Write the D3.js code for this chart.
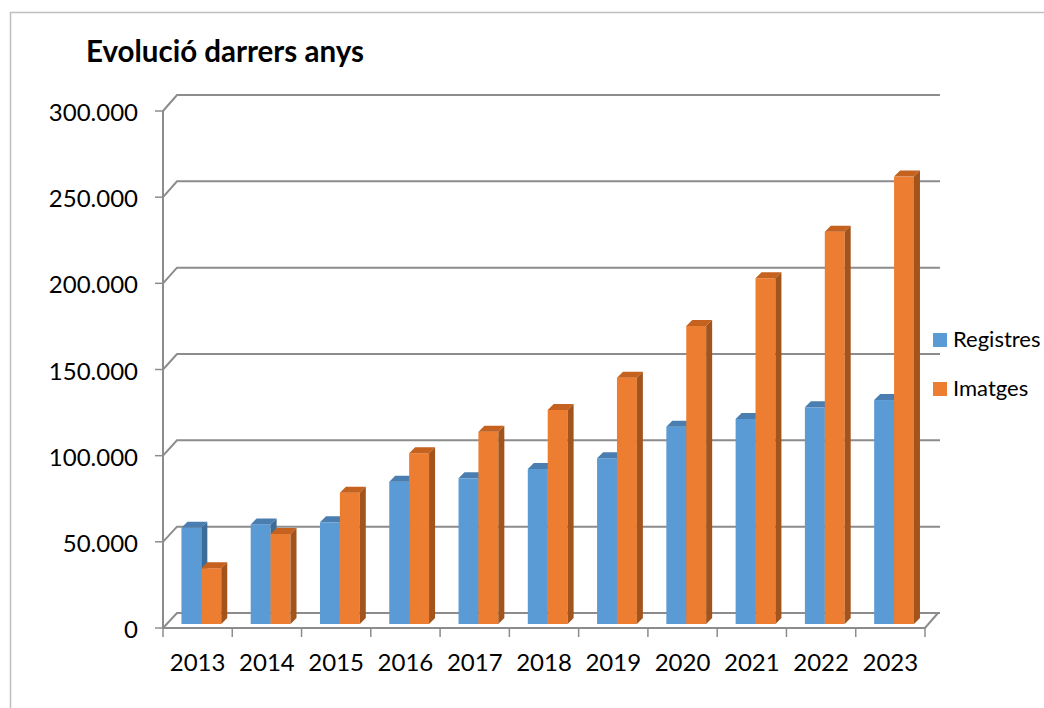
<!DOCTYPE html>
<html lang="ca">
<head>
<meta charset="UTF-8" />
<title>Evolució darrers anys</title>
<script src="https://d3js.org/d3.v7.js"></script>
<style>
    body { margin: 0; background: #fff; }
    text { font-family: Lato, "Open Sans", sans-serif; fill: #000; }
</style>
</head>
<body>
<script>
    var w = 1044;
    var h = 708;

    var years = ["2013","2014","2015","2016","2017","2018","2019","2020","2021","2022","2023"];
    var registres = [55500, 57500, 58700, 82200, 84100, 89500, 95700, 113900, 118400, 125100, 129300];
    var imatges = [32200, 52000, 75800, 98600, 111000, 123600, 142200, 172100, 199600, 226500, 258300];
    var seriesNames = ["Registres", "Imatges"];
    var yTicks = [0, 50000, 100000, 150000, 200000, 250000, 300000];
    var maxValue = 300000;

    var colors = {
        Registres: { front: "#5b9bd5", top: "#4a7eb0", side: "#3d6c98" },
        Imatges: { front: "#ed7d31", top: "#c5621f", side: "#a3541c" }
    };

    var grid = "#8c8c8c";

    var svg = d3.select("body")
        .append("svg")
        .attr("width", w)
        .attr("height", h);

    // chart border
    svg.append("rect")
        .attr("x", 10.5)
        .attr("y", 12.5)
        .attr("width", 1100)
        .attr("height", 800)
        .attr("fill", "none")
        .attr("stroke", "#bfbfbf")
        .attr("stroke-width", 1.5);

    svg.append("text")
        .attr("x", 86)
        .attr("y", 62)
        .attr("font-size", 29.5)
        .attr("font-weight", "bold")
        .text("Evolució darrers anys");

    // front plane and back wall scales
    var yFront = d3.scaleLinear().domain([0, maxValue]).range([628, 111]);
    var yBack = d3.scaleLinear().domain([0, maxValue]).range([613, 95]);
    var yBar = d3.scaleLinear().domain([0, maxValue]).range([624, 104.4]);
    var depth = 14;
    var barShift = 3.7;
    var backRight = 940;

    var xBand = d3.scaleBand()
        .domain(years)
        .range([163, 925]);

    var xSub = d3.scaleBand()
        .domain(seriesNames)
        .range([0, xBand.bandwidth()])
        .paddingInner(0)
        .paddingOuter(0.74);

    // gridlines: diagonal on left wall, then across the back wall
    svg.selectAll(".grid")
        .data(yTicks)
        .enter()
        .append("polyline")
        .attr("class", "grid")
        .attr("points", function(d){
            return [163, yFront(d)] + " " + [163 + depth, yBack(d)] + " " + [backRight, yBack(d)];
        })
        .attr("fill", "none")
        .attr("stroke", grid)
        .attr("stroke-width", 2);

    // floor front edge + right edge
    svg.append("polyline")
        .attr("points", [163, yFront(0)] + " " + [925, yFront(0)] + " " + [925 + depth - 1, yBack(0)])
        .attr("fill", "none")
        .attr("stroke", grid)
        .attr("stroke-width", 2);

    // vertical axis
    svg.append("line")
        .attr("x1", 163).attr("x2", 163)
        .attr("y1", yFront(maxValue)).attr("y2", yFront(0))
        .attr("stroke", grid)
        .attr("stroke-width", 2);

    svg.selectAll(".ytick")
        .data(yTicks)
        .enter()
        .append("line")
        .attr("x1", 155).attr("x2", 163)
        .attr("y1", function(d){ return yFront(d); })
        .attr("y2", function(d){ return yFront(d); })
        .attr("stroke", grid)
        .attr("stroke-width", 1.5);

    var fmt = function(d){ return d3.format(",")(d).replace(/,/g, "."); };

    svg.selectAll(".ylabel")
        .data(yTicks)
        .enter()
        .append("text")
        .attr("x", 138)
        .attr("y", function(d){ return yFront(d) + 10; })
        .attr("text-anchor", "end")
        .attr("font-size", 24)
        .text(fmt);

    // x ticks
    var xTickPos = years.map(function(d){ return xBand(d); }).concat([925]);
    svg.selectAll(".xtick")
        .data(xTickPos)
        .enter()
        .append("line")
        .attr("x1", function(d){ return d; })
        .attr("x2", function(d){ return d; })
        .attr("y1", yFront(0))
        .attr("y2", yFront(0) + 9)
        .attr("stroke", grid)
        .attr("stroke-width", 1.5);

    svg.selectAll(".xlabel")
        .data(years)
        .enter()
        .append("text")
        .attr("x", function(d){ return xBand(d) + xBand.bandwidth() / 2; })
        .attr("y", 671)
        .attr("text-anchor", "middle")
        .attr("font-size", 24)
        .text(function(d){ return d; });

    // 3d bars
    var bars = [];
    years.forEach(function(y, i){
        bars.push({ year: y, series: "Registres", value: registres[i] });
        bars.push({ year: y, series: "Imatges", value: imatges[i] });
    });

    var bw = xSub.bandwidth();
    var dx = 6, dy = -6;

    var g = svg.selectAll(".bar")
        .data(bars)
        .enter()
        .append("g")
        .attr("class", "bar");

    g.append("rect")
        .attr("x", function(d){ return xBand(d.year) + xSub(d.series) + barShift; })
        .attr("y", function(d){ return yBar(d.value); })
        .attr("width", bw)
        .attr("height", function(d){ return yBar(0) - yBar(d.value); })
        .attr("fill", function(d){ return colors[d.series].front; });

    g.append("polygon")
        .attr("points", function(d){
            var x0 = xBand(d.year) + xSub(d.series) + barShift;
            var y0 = yBar(d.value);
            return [x0, y0] + " " + [x0 + dx, y0 + dy] + " " + [x0 + bw + dx, y0 + dy] + " " + [x0 + bw, y0];
        })
        .attr("fill", function(d){ return colors[d.series].top; });

    g.append("polygon")
        .attr("points", function(d){
            var x1 = xBand(d.year) + xSub(d.series) + barShift + bw;
            var y0 = yBar(d.value);
            return [x1, y0] + " " + [x1 + dx, y0 + dy] + " " + [x1 + dx, yBar(0) + dy] + " " + [x1, yBar(0)];
        })
        .attr("fill", function(d){ return colors[d.series].side; });

    // legend
    var legend = svg.selectAll(".legend")
        .data(seriesNames)
        .enter()
        .append("g")
        .attr("transform", function(d, i){ return "translate(933," + (333 + i * 49) + ")"; });

    legend.append("rect")
        .attr("width", 14)
        .attr("height", 14)
        .attr("fill", function(d){ return colors[d].front; });

    legend.append("text")
        .attr("x", 20)
        .attr("y", 14)
        .attr("font-size", 22)
        .text(function(d){ return d; });
</script>
</body>
</html>
